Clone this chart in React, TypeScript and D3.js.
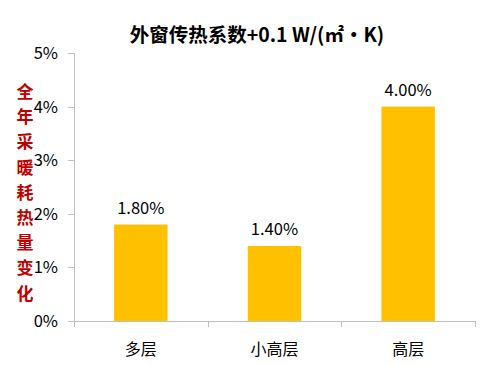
import React from "react";
import * as d3 from "d3";

const categories = ["多层", "小高层", "高层"];
const values = [1.8, 1.4, 4.0];
const yTicks = [0, 1, 2, 3, 4, 5];
const title = "外窗传热系数+0.1 W/(㎡•K)";
const yTitle = "全年采暖耗热量变化";

const W = 500;
const H = 365;
const margin = { top: 53, right: 25, bottom: 44, left: 74 };

const App = () => {
  const innerW = W - margin.left - margin.right;
  const innerH = H - margin.top - margin.bottom;

  const x = d3.scaleBand().domain(categories).range([0, innerW]);
  const y = d3.scaleLinear().domain([0, 5]).range([innerH, 0]);
  const barW = x.bandwidth() * 0.4;
  const font = "'Microsoft YaHei', 'Noto Sans CJK SC', 'DejaVu Sans', sans-serif";

  return (
    <svg
      width={W}
      height={H}
      style={{ position: "absolute", left: 0, top: 0, background: "#fff" }}
      fontFamily={font}
    >
      <text x={257} y={42} textAnchor="middle" fontSize={19.5} fontWeight="bold" fill="#000">
        {title}
      </text>

      {/* vertical y title */}
      {yTitle.split("").map((ch, i) => (
        <text
          key={i}
          x={25}
          y={98 + i * 25.2}
          textAnchor="middle"
          fontSize={17}
          fontWeight="bold"
          fill="#C00000"
        >
          {ch}
        </text>
      ))}

      <g transform={`translate(${margin.left},${margin.top})`}>
        {/* bars */}
        {values.map((v, i) => (
          <rect
            key={i}
            x={x(categories[i])! + (x.bandwidth() - barW) / 2}
            y={y(v)}
            width={barW}
            height={innerH - y(v)}
            fill="#FFC000"
          />
        ))}
        {values.map((v, i) => (
          <text
            key={"l" + i}
            x={x(categories[i])! + x.bandwidth() / 2}
            y={y(v) - 11}
            textAnchor="middle"
            fontSize={16.5}
            fill="#000"
          >
            {v.toFixed(2) + "%"}
          </text>
        ))}

        {/* y axis */}
        <line x1={0.5} x2={0.5} y1={0} y2={innerH} stroke="#BFBFBF" />
        {yTicks.map((t) => (
          <g key={t} transform={`translate(0,${Math.round(y(t)) + 0.5})`}>
            <line x1={-6} x2={0} stroke="#BFBFBF" />
            <text x={-16} dy="0.35em" textAnchor="end" fontSize={16.5} fill="#000">
              {t + "%"}
            </text>
          </g>
        ))}

        {/* x axis */}
        <line x1={0} x2={innerW} y1={innerH + 0.5} y2={innerH + 0.5} stroke="#BFBFBF" />
        {[0, ...categories.map((c) => x(c)! + x.bandwidth())].map((p, i) => (
          <line
            key={"t" + i}
            x1={Math.round(p) + 0.5}
            x2={Math.round(p) + 0.5}
            y1={innerH}
            y2={innerH + 6}
            stroke="#BFBFBF"
          />
        ))}
        {categories.map((c) => (
          <text
            key={c}
            x={x(c)! + x.bandwidth() / 2}
            y={innerH + 34}
            textAnchor="middle"
            fontSize={16}
            fill="#000"
          >
            {c}
          </text>
        ))}
      </g>
    </svg>
  );
};

export default App;
